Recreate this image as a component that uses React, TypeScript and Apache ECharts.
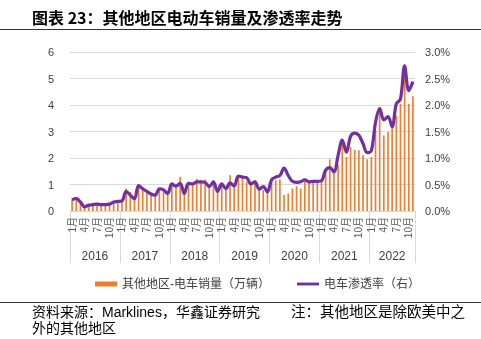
import React, { useEffect, useRef } from "react";
import * as echarts from "echarts";

const years = ["2016", "2017", "2018", "2019", "2020", "2021", "2022"];
const monthsPerYear = [12, 12, 12, 12, 12, 12, 11];

const sales = [
  0.42, 0.45, 0.30, 0.16, 0.22, 0.24, 0.26, 0.24, 0.24, 0.26, 0.35, 0.36,
  0.35, 0.85, 0.72, 0.48, 0.98, 0.85, 0.72, 0.60, 0.56, 0.80, 0.75, 0.62,
  0.98, 0.91, 1.29, 0.72, 1.10, 1.06, 1.22, 1.16, 1.19, 0.98, 1.16, 0.72,
  0.95, 0.80, 1.35, 0.88, 1.35, 1.30, 1.10, 1.10, 1.16, 0.90, 0.80, 0.80,
  1.19, 1.16, 1.19, 0.60, 0.66, 0.85, 0.94, 0.85, 1.14, 1.06, 1.06, 1.06,
  1.14, 1.50, 1.95, 1.47, 1.75, 2.60, 2.04, 2.41, 2.31, 2.29, 2.10, 1.95,
  2.04, 3.04, 3.90, 2.85, 2.98, 3.16, 3.60, 4.04, 5.10, 4.04, 4.33,
];

const penetration = [
  0.21, 0.24, 0.17, 0.08, 0.11, 0.12, 0.13, 0.12, 0.12, 0.13, 0.17, 0.18,
  0.19, 0.37, 0.30, 0.23, 0.48, 0.42, 0.37, 0.32, 0.30, 0.42, 0.40, 0.33,
  0.51, 0.47, 0.52, 0.33, 0.52, 0.51, 0.55, 0.55, 0.54, 0.46, 0.55, 0.37,
  0.51, 0.42, 0.53, 0.47, 0.66, 0.64, 0.63, 0.51, 0.55, 0.41, 0.46, 0.36,
  0.59, 0.64, 0.67, 0.81, 0.67, 0.56, 0.54, 0.55, 0.59, 0.55, 0.56, 0.56,
  0.57, 0.77, 0.82, 0.74, 1.05, 1.34, 1.11, 1.41, 1.47, 1.43, 1.27, 1.10,
  1.14, 1.67, 1.93, 1.72, 1.78, 1.59, 2.02, 2.11, 2.74, 2.27, 2.44,
];

const leftTicks = { min: 0, max: 6, interval: 1 };
const rightTicks = { min: 0, max: 3, interval: 0.5 };

const seriesNames = ["其他地区-电车销量（万辆）", "电车渗透率（右）"];
const titleText = "图表 23：其他地区电动车销量及渗透率走势";
const sourceA = "资料来源：Marklines，华鑫证券研究";
const sourceB = "注：其他地区是除欧美中之";
const sourceLine2 = "外的其他地区";

const FONT = "'Liberation Sans', 'Noto Sans CJK SC', sans-serif";

export default function App() {
  const ref = useRef<HTMLDivElement>(null);
  useEffect(() => {
    if (!ref.current) return;
    const chart = echarts.init(ref.current, null, { renderer: "svg" });

    const months: string[] = [];
    years.forEach((y, yi) => {
      for (let m = 1; m <= monthsPerYear[yi]; m++) months.push(`${m}月`);
    });
    const totalHalf = months.length * 2;
    const halfData: string[] = new Array(totalHalf + 1).fill("");
    const yearCenters = new Set<number>();
    const yearBounds = new Set<number>([0, totalHalf]);
    let acc = 0;
    years.forEach((y, yi) => {
      const c = acc + monthsPerYear[yi];
      halfData[c] = y;
      yearCenters.add(c);
      acc += monthsPerYear[yi] * 2;
      yearBounds.add(acc);
    });

    chart.setOption({
      animation: false,
      textStyle: { fontFamily: FONT },
      grid: { left: 70, right: 66, top: 52, bottom: 128, containLabel: false },
      legend: {
        left: 90,
        top: 273,
        itemWidth: 22,
        itemHeight: 5,
        itemGap: 27,
        textStyle: { fontSize: 12, color: "#404040", fontFamily: FONT },
        data: [
          { name: seriesNames[0], icon: "rect" },
          { name: seriesNames[1], icon: "path://M0,0 L25,0 L25,3.2 L0,3.2 Z" },
        ],
      },
      xAxis: [
        {
          type: "category",
          data: months,
          axisLine: { lineStyle: { color: "#d9d9d9" } },
          axisTick: { show: false },
          axisLabel: {
            interval: (i: number) => i % 3 === 0,
            rotate: 90,
            fontSize: 10,
            margin: 6,
            color: "#595959",
          },
        },
        {
          type: "category",
          data: halfData,
          boundaryGap: false,
          position: "bottom",
          axisLine: { show: false },
          axisTick: {
            show: true,
            length: 52,
            interval: (i: number) => yearBounds.has(i),
            lineStyle: { color: "#d9d9d9" },
          },
          axisLabel: {
            interval: (i: number) => yearCenters.has(i),
            margin: 39,
            fontSize: 12,
            color: "#404040",
          },
        },
      ],
      yAxis: [
        {
          type: "value",
          ...leftTicks,
          axisLine: { show: false },
          axisTick: { show: false },
          splitLine: { lineStyle: { color: "#d9d9d9" } },
          axisLabel: { margin: 16, fontSize: 11, color: "#404040" },
        },
        {
          type: "value",
          ...rightTicks,
          position: "right",
          axisLine: { show: false },
          axisTick: { show: false },
          splitLine: { show: false },
          axisLabel: {
            margin: 10,
            fontSize: 11,
            color: "#404040",
            formatter: (v: number) => v.toFixed(1) + "%",
          },
        },
      ],
      series: [
        {
          name: seriesNames[0],
          type: "bar",
          xAxisIndex: 0,
          yAxisIndex: 0,
          data: sales,
          barWidth: "40%",
          itemStyle: { color: "#ED7D31" },
        },
        {
          name: seriesNames[1],
          type: "line",
          xAxisIndex: 0,
          yAxisIndex: 1,
          data: penetration,
          smooth: 0.35,
          symbol: "none",
          lineStyle: { width: 3.2, color: "#7030A0" },
          itemStyle: { color: "#7030A0" },
        },
      ],
      graphic: [
        {
          type: "text",
          left: 32,
          top: 9,
          style: {
            text: titleText,
            fontSize: 16,
            fontWeight: "bold",
            fill: "#000",
            fontFamily: "'Noto Sans CJK SC', sans-serif",
          },
        },
        {
          type: "line",
          shape: { x1: 0, y1: 29.5, x2: 481, y2: 29.5 },
          style: { stroke: "#333", lineWidth: 1 },
        },
        {
          type: "line",
          shape: { x1: 0, y1: 302.5, x2: 481, y2: 302.5 },
          style: { stroke: "#333", lineWidth: 1 },
        },
        {
          type: "text",
          left: 32,
          top: 305,
          style: { text: sourceA, fontSize: 14, fill: "#000", fontFamily: FONT },
        },
        {
          type: "text",
          left: 291,
          top: 305,
          style: { text: sourceB, fontSize: 14.5, fill: "#000", fontFamily: FONT },
        },
        {
          type: "text",
          left: 32,
          top: 321,
          style: { text: sourceLine2, fontSize: 14, fill: "#000", fontFamily: FONT },
        },
      ],
    });
    return () => chart.dispose();
  }, []);
  return (
    <div
      ref={ref}
      style={{ position: "fixed", left: 0, top: 0, width: 481, height: 339 }}
    />
  );
}
